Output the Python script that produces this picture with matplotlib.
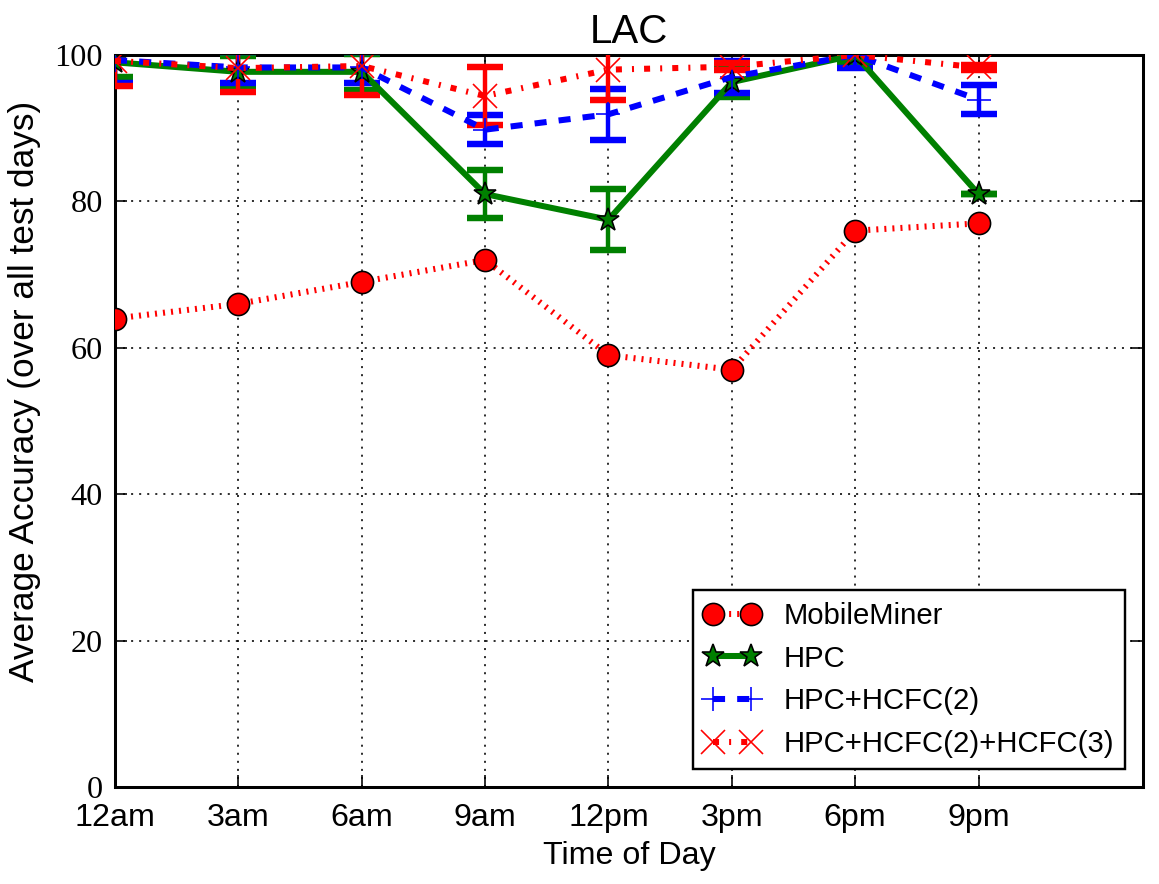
import numpy as np
import matplotlib
matplotlib.use('Agg')
import matplotlib.pyplot as plt

plt.rcParams['lines.scale_dashes'] = False

hours = ['12am', '3am', '6am', '9am', '12pm', '3pm', '6pm', '9pm']
mobileminer = [64, 66, 69, 72, 59, 57, 76, 77]
hpc = [99, 97.7, 97.7, 81, 77.5, 96.3, 100, 81]
hpc_err = [2.0, 2.1, 2.5, 3.3, 4.2, 2.0, 1.0, 0.0]
hcfc2 = [99.3, 98.3, 98.3, 89.8, 91.9, 97.0, 100, 93.9]
hcfc2_err = [3.1, 2.1, 2.1, 2.0, 3.5, 2.2, 1.8, 2.0]
hcfc3 = [99.2, 98.2, 98.5, 94.4, 98.0, 98.4, 100, 98.3]
hcfc3_err = [3.4, 3.2, 4.0, 4.0, 4.1, 0.5, 0.3, 0.3]

x = np.arange(len(hours))

fig = plt.figure(figsize=(1159 / 145.0, 884 / 145.0), dpi=145)
ax = fig.add_axes([115 / 1159.0, 1 - 787 / 884.0, (1143 - 115) / 1159.0, (787 - 55) / 884.0])

sans = ['Liberation Sans', 'DejaVu Sans']

# error bars first
ax.errorbar(x, hpc, yerr=hpc_err, fmt='none', ecolor='green', elinewidth=2.2,
            capsize=9, capthick=3.2, zorder=3)
ax.errorbar(x, hcfc2, yerr=hcfc2_err, fmt='none', ecolor='blue', elinewidth=2.2,
            capsize=9, capthick=3.2, zorder=3)
ax.errorbar(x, hcfc3, yerr=hcfc3_err, fmt='none', ecolor='red', elinewidth=2.2,
            capsize=9, capthick=3.2, zorder=3)

ax.plot(x, mobileminer, color='red', linestyle=(0, (1, 3)), lw=3, marker='o',
        markersize=11, markerfacecolor='red', markeredgecolor='black',
        markeredgewidth=0.8, label='MobileMiner', zorder=4)
ax.plot(x, hpc, color='green', linestyle='-', lw=3, marker='*',
        markersize=12, markerfacecolor='green', markeredgecolor='black',
        markeredgewidth=0.8, label='HPC', zorder=4)
ax.plot(x, hcfc2, color='blue', linestyle=(0, (6, 6)), lw=3, marker='+',
        markersize=12, markeredgecolor='blue', markeredgewidth=0.8,
        label='HPC+HCFC(2)', zorder=4)
ax.plot(x, hcfc3, color='red', linestyle=(0, (3, 5, 1, 5)), lw=3, marker='x',
        markersize=12, markeredgecolor='red', markeredgewidth=0.8,
        label='HPC+HCFC(2)+HCFC(3)', zorder=4)

ax.set_xlim(0, 8 + 1 / 3.0)
ax.set_ylim(0, 100)
ax.set_xticks(x)
ax.set_xticklabels(hours, fontsize=16, family=sans)
ax.set_yticks([0, 20, 40, 60, 80, 100])
ax.set_yticklabels(['0', '20', '40', '60', '80', '100'], fontsize=16,
                   family=['Liberation Serif', 'DejaVu Serif'])
ax.tick_params(direction='in', length=6, width=0.8, top=True, right=True, pad=6)
ax.tick_params(axis='x', pad=8)
ax.grid(True, color='black', linestyle=(0, (1, 3)), linewidth=0.8)
for s in ax.spines.values():
    s.set_linewidth(1.5)

ax.set_title('LAC', fontsize=20, family=sans, pad=6)
ax.set_xlabel('Time of Day', fontsize=16, family=sans, labelpad=4)
ax.set_ylabel('Average Accuracy (over all test days)', fontsize=17.5, family=sans)
ax.yaxis.set_label_coords(-0.072, 0.54)

leg = ax.legend(loc='lower right', numpoints=2, prop={'family': sans, 'size': 14.5},
                fancybox=False, framealpha=1, edgecolor='black', borderaxespad=0.6,
                handlelength=1.9)
leg.get_frame().set_linewidth(1.2)

fig.savefig('out.png', dpi=145)
